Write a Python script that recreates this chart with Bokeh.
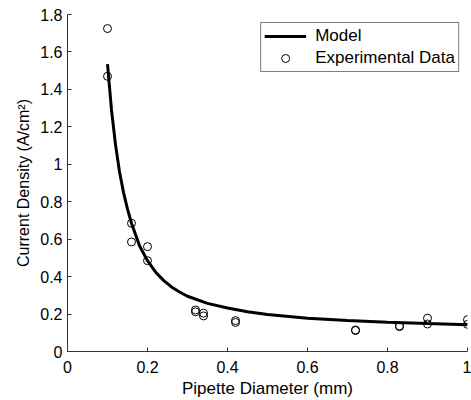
from bokeh.plotting import figure
from bokeh.models import FixedTicker, Range1d, Legend, LegendItem
from bokeh.embed import file_html
from bokeh.resources import INLINE

# Model curve
model_x = [0.1, 0.11, 0.12, 0.13, 0.14, 0.15, 0.16, 0.18, 0.2, 0.22, 0.24, 0.26, 0.28, 0.3,
           0.35, 0.4, 0.45, 0.5, 0.6, 0.7, 0.8, 0.9, 1.0]
model_y = [1.535, 1.29, 1.105, 0.96, 0.85, 0.76, 0.685, 0.565, 0.485, 0.425, 0.38, 0.345,
           0.318, 0.295, 0.257, 0.232, 0.212, 0.198, 0.178, 0.165, 0.156, 0.149, 0.143]

exp_x = [0.1, 0.1, 0.16, 0.16, 0.2, 0.2, 0.32, 0.32, 0.34, 0.34, 0.42, 0.42,
         0.72, 0.72, 0.83, 0.83, 0.9, 0.9, 1.0, 1.0]
exp_y = [1.725, 1.47, 0.685, 0.585, 0.56, 0.485, 0.222, 0.212, 0.205, 0.19, 0.165, 0.155,
         0.115, 0.112, 0.137, 0.133, 0.178, 0.147, 0.17, 0.145]

x_ticks = [0, 0.2, 0.4, 0.6, 0.8, 1.0]
x_tick_labels = ["0", "0.2", "0.4", "0.6", "0.8", "1"]
y_ticks = [0, 0.2, 0.4, 0.6, 0.8, 1.0, 1.2, 1.4, 1.6, 1.8]
y_tick_labels = ["0", "0.2", "0.4", "0.6", "0.8", "1", "1.2", "1.4", "1.6", "1.8"]

FONT = "Liberation Sans"

p = figure(width=471, height=400, output_backend="svg", toolbar_location=None,
           x_range=Range1d(0, 1), y_range=Range1d(0, 1.8),
           min_border_left=67, min_border_right=4, min_border_top=14, min_border_bottom=48)
p.outline_line_color = None
p.xgrid.visible = False
p.ygrid.visible = False
p.background_fill_color = "white"
p.border_fill_color = "white"

r_line = p.line(model_x, model_y, line_color="black", line_width=3)
r_pts = p.scatter(exp_x, exp_y, marker="circle", size=8, fill_color=None,
                  line_color="black", line_width=1)

for ax, ticks, labels in ((p.xaxis[0], x_ticks, x_tick_labels), (p.yaxis[0], y_ticks, y_tick_labels)):
    ax.ticker = FixedTicker(ticks=ticks)
    ax.major_label_overrides = {t: l for t, l in zip(ticks, labels)}
    ax.minor_tick_line_color = None
    ax.major_tick_in = 4
    ax.major_tick_out = 0
    ax.axis_line_color = "#333333"
    ax.major_tick_line_color = "#333333"
    ax.major_label_text_font = FONT
    ax.major_label_text_font_size = "16px"
    ax.major_label_text_color = "black"
    ax.axis_label_text_font = FONT
    ax.axis_label_text_font_style = "normal"
    ax.axis_label_text_color = "black"

p.xaxis.axis_label = "Pipette Diameter (mm)"
p.yaxis.axis_label = "Current Density (A/cm\u00b2)"
p.xaxis.axis_label_text_font_size = "17px"
p.yaxis.axis_label_text_font_size = "16px"
p.xaxis.major_label_standoff = 9
p.yaxis.major_label_standoff = 5
p.xaxis.axis_label_standoff = 3
p.yaxis.axis_label_standoff = 5

legend = Legend(items=[LegendItem(label="Model", renderers=[r_line]),
                       LegendItem(label="Experimental Data", renderers=[r_pts])],
                location="top_right")
legend.margin = 8
legend.padding = 3
legend.spacing = 2
legend.glyph_width = 42
legend.glyph_height = 20
legend.label_height = 20
legend.label_standoff = 9
legend.label_text_font = FONT
legend.label_text_font_size = "17px"
legend.label_text_color = "black"
legend.border_line_color = "black"
legend.border_line_width = 1
legend.background_fill_alpha = 1
p.add_layout(legend)

open("out.html", "w").write(file_html(p, INLINE))
